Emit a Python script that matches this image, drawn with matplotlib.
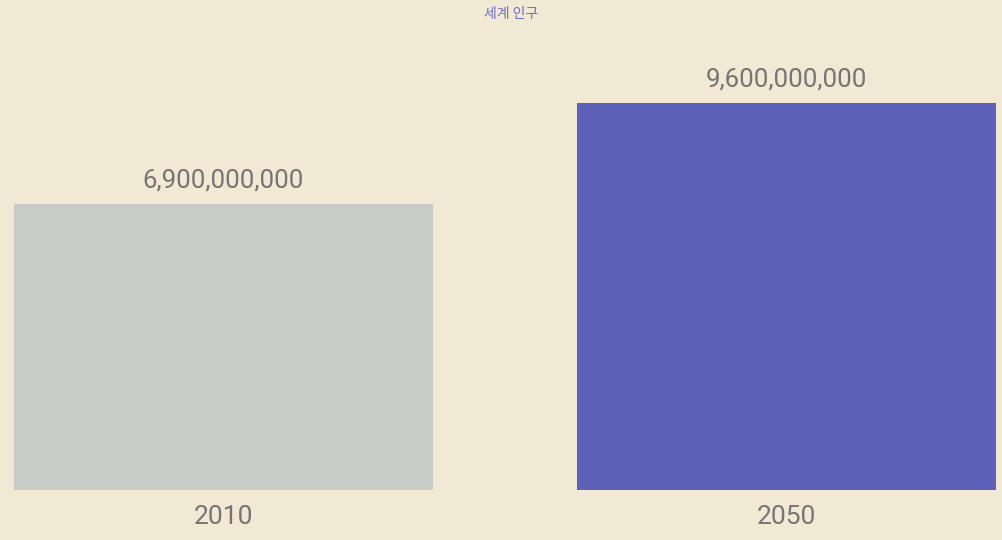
import matplotlib.pyplot as plt
from matplotlib import font_manager

# datos
anios = ["2010", "2050"]
poblacion = [6900000000, 9600000000]
colores = ["#C9CBC9", "#5D62B8"]
titulo = "세계 인구"

fondo = "#F1E9D3"
gris_texto = "#757575"

nombres = {f.name for f in font_manager.fontManager.ttflist}
fuente = "Liberation Sans Narrow" if "Liberation Sans Narrow" in nombres else "Roboto"

fig = plt.figure(figsize=(10.02, 5.4), dpi=100, facecolor=fondo)
ax = fig.add_axes([0, 50 / 540, 1, 450 / 540])
ax.set_facecolor(fondo)

base = -0.75e9
x = range(len(anios))
alturas = [v - base for v in poblacion]
ax.bar(x, alturas, bottom=base, width=0.744, color=colores)

for i, v in enumerate(poblacion):
    ax.text(i, v + 0.3e9, f"{v:,}", ha="center", va="bottom",
            fontsize=18.6, color=gris_texto, family=fuente)
    ax.text(i, base - 0.4e9, anios[i], ha="center", va="top",
            fontsize=19, color=gris_texto, family=fuente)

ax.set_xlim(-0.397, 1.383)
ax.set_ylim(base, base + 450 / 37.4 * 1e9)
ax.axis("off")

fig.text(0.51, 1 - 14 / 540, titulo, ha="center", va="center", fontsize=10,
         color="#6A6EC4", family=["Noto Sans CJK KR", "DejaVu Sans"])

fig.savefig("out.png", dpi=100, facecolor=fondo)
